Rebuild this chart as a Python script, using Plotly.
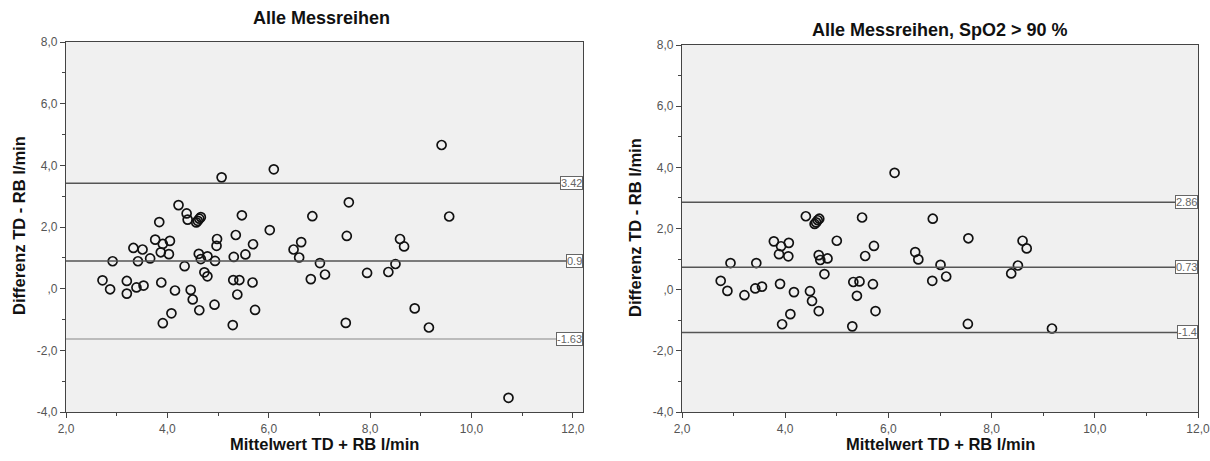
import plotly.graph_objects as go

# ---- data ----
left_x = [2.72, 2.87, 2.92, 3.20, 3.20, 3.33, 3.39, 3.42, 3.51, 3.53, 3.66, 3.76, 3.84, 3.87, 3.88,
          3.91, 3.91, 4.03, 4.05, 4.08, 4.15, 4.22, 4.34, 4.38, 4.40, 4.46, 4.50, 4.57, 4.60, 4.63,
          4.66, 4.62, 4.66, 4.63, 4.73, 4.79, 4.79, 4.93, 4.94, 4.97, 4.98, 5.07, 5.29, 5.30, 5.31,
          5.35, 5.38, 5.42, 5.47, 5.54, 5.68, 5.69, 5.73, 6.02, 6.10, 6.49, 6.60, 6.64, 6.83, 6.86,
          7.01, 7.11, 7.52, 7.54, 7.58, 7.94, 8.36, 8.50, 8.59, 8.67, 8.88, 9.16, 9.41, 9.56, 10.73]
left_y = [0.27, -0.02, 0.89, 0.25, -0.16, 1.32, 0.04, 0.89, 1.27, 0.10, 0.98, 1.59, 2.16, 1.18, 0.20,
          1.45, -1.12, 1.12, 1.55, -0.80, -0.06, 2.71, 0.73, 2.44, 2.24, -0.04, -0.35, 2.15, 2.20, 2.27,
          2.32, 1.13, 0.96, -0.70, 0.53, 0.40, 1.05, -0.52, 0.90, 1.39, 1.61, 3.61, -1.18, 0.28, 1.03,
          1.74, -0.19, 0.28, 2.38, 1.11, 0.20, 1.44, -0.69, 1.90, 3.87, 1.27, 1.01, 1.51, 0.31, 2.35,
          0.83, 0.46, -1.11, 1.71, 2.80, 0.51, 0.54, 0.80, 1.61, 1.37, -0.64, -1.26, 4.66, 2.34, -3.54]

right_x = [2.75, 2.88, 2.94, 3.21, 3.42, 3.44, 3.55, 3.78, 3.88, 3.90, 3.92, 3.94, 4.06, 4.07, 4.10,
           4.17, 4.40, 4.48, 4.52, 4.57, 4.60, 4.63, 4.66, 4.65, 4.68, 4.65, 4.76, 4.82, 5.00, 5.30,
           5.32, 5.39, 5.44, 5.49, 5.55, 5.70, 5.72, 5.75, 6.12, 6.52, 6.58, 6.85, 6.86, 7.01, 7.12,
           7.54, 7.55, 8.38, 8.51, 8.60, 8.68, 9.17]
right_y = [0.29, -0.04, 0.87, -0.18, 0.04, 0.87, 0.10, 1.58, 1.16, 0.19, 1.42, -1.13, 1.09, 1.53, -0.80,
           -0.08, 2.40, -0.05, -0.37, 2.15, 2.20, 2.27, 2.32, 1.13, 0.97, -0.70, 0.51, 1.02, 1.60, -1.20,
           0.25, -0.20, 0.27, 2.36, 1.10, 0.18, 1.43, -0.70, 3.82, 1.23, 0.99, 0.29, 2.32, 0.81, 0.43,
           -1.12, 1.68, 0.53, 0.79, 1.60, 1.35, -1.27]

left_lines = [3.42, 0.9, -1.63]
left_line_labels = ["3.42", "0.9", "-1.63"]
right_lines = [2.86, 0.73, -1.4]
right_line_labels = ["2.86", "0.73", "-1.4"]

y_tickvals = [-4, -2, 0, 2, 4, 6, 8]
y_ticktext = ["-4,0", "-2,0", ",0", "2,0", "4,0", "6,0", "8,0"]
x_tickvals = [2, 4, 6, 8, 10, 12]
x_ticktext = ["2,0", "4,0", "6,0", "8,0", "10,0", "12,0"]

titles = ["Alle Messreihen", "Alle Messreihen, SpO2 > 90 %"]
x_title = "Mittelwert TD + RB l/min"
y_title = "Differenz TD - RB l/min"

W, H = 1210, 461
FONT = "Liberation Sans, Arial, sans-serif"

fig = go.Figure()

marker = dict(symbol="circle-open", size=9, color="#111", line=dict(width=1.7, color="#111"))
fig.add_trace(go.Scatter(x=left_x, y=left_y, mode="markers", marker=marker,
                         xaxis="x", yaxis="y", showlegend=False))
fig.add_trace(go.Scatter(x=right_x, y=right_y, mode="markers", marker=marker,
                         xaxis="x2", yaxis="y2", showlegend=False))

def px_x(p):
    return p / W

def px_y(p):
    return 1 - p / H

axis_common = dict(
    automargin=False,
    showgrid=False, zeroline=False, showline=True, linecolor="#444", linewidth=1.3,
    mirror=True, ticks="outside", ticklen=5, tickwidth=1, tickcolor="#444",
    tickfont=dict(family=FONT, size=12, color="#555"),
    ticklabeloverflow="allow",
    minor=dict(dtick=1, tick0=0, ticks="outside", ticklen=3, tickcolor="#444", tickwidth=1),
)

fig.update_layout(
    width=W, height=H,
    margin=dict(l=0, r=0, t=0, b=0, autoexpand=False),
    paper_bgcolor="white",
    plot_bgcolor="#f0f0f0",
    font=dict(family=FONT),
    xaxis=dict(domain=[px_x(66), px_x(583)], range=[2, 12.2], anchor="y",
               tickmode="array", tickvals=x_tickvals, ticktext=x_ticktext, **axis_common),
    yaxis=dict(domain=[px_y(412), px_y(42)], range=[-4, 8], anchor="x",
               tickmode="array", tickvals=y_tickvals, ticktext=y_ticktext, **axis_common),
    xaxis2=dict(domain=[px_x(682), px_x(1198)], range=[2, 12], anchor="y2",
                tickmode="array", tickvals=x_tickvals, ticktext=x_ticktext, **axis_common),
    yaxis2=dict(domain=[px_y(412), px_y(45)], range=[-4, 8], anchor="x2",
                tickmode="array", tickvals=y_tickvals, ticktext=y_ticktext, **axis_common),
)

shapes = []
annotations = []
left_colors = ["#555", "#555", "#aaa"]
for v, lab, col in zip(left_lines, left_line_labels, left_colors):
    shapes.append(dict(type="line", xref="x domain", yref="y", x0=0, x1=1, y0=v, y1=v,
                       line=dict(color=col, width=1.5)))
    annotations.append(dict(xref="x domain", yref="y", x=1, y=v, text=lab, showarrow=False,
                            xanchor="right", yanchor="middle", bgcolor="white", bordercolor="#666",
                            borderwidth=1, borderpad=0,
                            font=dict(family=FONT, size=11, color="#666")))
for v, lab in zip(right_lines, right_line_labels):
    shapes.append(dict(type="line", xref="x2 domain", yref="y2", x0=0, x1=1, y0=v, y1=v,
                       line=dict(color="#555", width=1.5)))
    annotations.append(dict(xref="x2 domain", yref="y2", x=1, y=v, text=lab, showarrow=False,
                            xanchor="right", yanchor="middle", bgcolor="white", bordercolor="#666",
                            borderwidth=1, borderpad=0,
                            font=dict(family=FONT, size=11, color="#666")))

tfont = dict(family=FONT, size=18, color="#111")
afont = dict(family=FONT, size=16.5, color="#111")
annotations += [
    dict(xref="paper", yref="paper", x=px_x(321), y=px_y(18), text="<b>%s</b>" % titles[0],
         showarrow=False, xanchor="center", yanchor="middle", font=tfont),
    dict(xref="paper", yref="paper", x=px_x(940), y=px_y(30), text="<b>%s</b>" % titles[1],
         showarrow=False, xanchor="center", yanchor="middle", font=tfont),
    dict(xref="paper", yref="paper", x=px_x(324), y=px_y(444), text="<b>%s</b>" % x_title,
         showarrow=False, xanchor="center", yanchor="middle", font=afont),
    dict(xref="paper", yref="paper", x=px_x(940), y=px_y(444), text="<b>%s</b>" % x_title,
         showarrow=False, xanchor="center", yanchor="middle", font=afont),
    dict(xref="paper", yref="paper", x=px_x(19), y=px_y(226), text="<b>%s</b>" % y_title,
         showarrow=False, xanchor="center", yanchor="middle", textangle=-90, font=afont),
    dict(xref="paper", yref="paper", x=px_x(635), y=px_y(228), text="<b>%s</b>" % y_title,
         showarrow=False, xanchor="center", yanchor="middle", textangle=-90, font=afont),
]

fig.update_layout(shapes=shapes, annotations=annotations)
fig.write_html("out.html", config={"displayModeBar": False},
               post_script="document.body.style.margin='0';document.body.style.overflow='hidden';")
